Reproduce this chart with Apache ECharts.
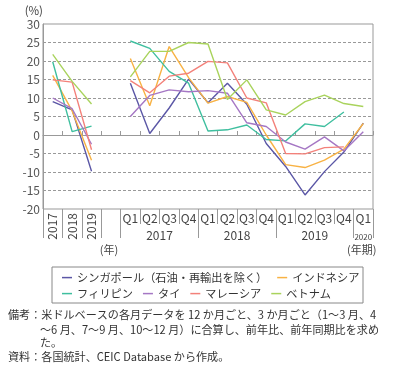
<!DOCTYPE html>
<html><head><meta charset="utf-8">
<script src="https://cdn.jsdelivr.net/npm/echarts@6/dist/echarts.min.js"></script>
<style>html,body{margin:0;padding:0;background:#fff}#c{width:400px;height:368px}</style>
</head><body><div id="c"></div>
<script>
var annualLabels = ['2017', '2018', '2019'];
var quarterLabels = ['Q1','Q2','Q3','Q4','Q1','Q2','Q3','Q4','Q1','Q2','Q3','Q4','Q1'];
var yearGroups = ['2017', '2018', '2019', '2020'];
var seriesNames = ['シンガポール（石油・再輸出を除く）', 'インドネシア', 'フィリピン', 'タイ', 'マレーシア', 'ベトナム'];
var colors = ['#5b57a6', '#f8b244', '#3fbf9f', '#a577c4', '#f3817a', '#a9d35c'];

var singaporeAnnual = [9.0, 6.8, -9.8];
var singaporeQ = [14.0, 0.4, 7.3, 15.1, 8.7, 14.0, 8.3, -2.3, -8.5, -16.2, -9.9, -4.6, 3.2];
var indonesiaAnnual = [16.1, 6.5, -6.8];
var indonesiaQ = [20.7, 7.9, 23.9, 15.5, 8.6, 10.4, 8.8, 0.0, -8.0, -8.8, -6.8, -3.8, 3.1];
var philippinesAnnual = [19.8, 0.9, 2.4];
var philippinesQ = [25.4, 23.4, 17.2, 14.0, 1.1, 1.4, 2.7, -1.2, -1.6, 3.0, 2.3, 6.2, null];
var thailandAnnual = [10.0, 7.1, -2.5];
var thailandQ = [5.0, 10.7, 12.2, 11.7, 12.0, 11.3, 3.3, 2.3, -1.9, -3.8, -0.5, -4.3, 0.9];
var malaysiaAnnual = [14.9, 14.3, -4.0];
var malaysiaQ = [14.7, 11.4, 15.9, 16.7, 19.9, 19.5, 10.0, 8.7, -5.0, -5.1, -3.4, -3.2, null];
var vietnamAnnual = [21.8, 14.5, 8.4];
var vietnamQ = [15.7, 22.6, 22.6, 25.0, 24.6, 9.6, 14.9, 6.8, 5.4, 9.0, 10.8, 8.5, 7.7];

var nA = annualLabels.length, nQ = quarterLabels.length;
var nCat = nA + 1 + nQ;
var categories = [];
for (var i = 0; i < nA; i++) categories.push(annualLabels[i]);
categories.push('');
for (var j = 0; j < nQ; j++) categories.push(yearGroups[Math.floor(j / 4)] + quarterLabels[j]);

function join(a, q) { return a.concat([null]).concat(q); }
var allData = [
  join(singaporeAnnual, singaporeQ), join(indonesiaAnnual, indonesiaQ),
  join(philippinesAnnual, philippinesQ), join(thailandAnnual, thailandQ),
  join(malaysiaAnnual, malaysiaQ), join(vietnamAnnual, vietnamQ)
];

var qStart = nA + 1;
var shortTicks = [], longTicks = [0, 1, 2, 3, qStart];
for (var k = 1; k < nQ; k++) {
  if (k % 4 === 0) longTicks.push(qStart + k); else shortTicks.push(qStart + k);
}
longTicks.push(nCat);
var annualPos = annualLabels.map(function (_, i) { return i + 0.5; });
var quarterPos = quarterLabels.map(function (_, i) { return qStart + i + 0.5; });
var groupPos = yearGroups.map(function (_, g) {
  var s = qStart + g * 4, e = Math.min(s + 4, nCat);
  return (s + e) / 2;
});

var FONT = 'Noto Sans CJK JP';
var gray = '#999';

var chart = echarts.init(document.getElementById('c'), null, {renderer: 'canvas'});
var series = seriesNames.map(function (n, i) {
  return {
    name: n, type: 'line', data: allData[i], xAxisIndex: 0, yAxisIndex: 0,
    symbol: 'none', showSymbol: false, connectNulls: false,
    lineStyle: {width: 1.4, color: colors[i]}, itemStyle: {color: colors[i]}
  };
});

function valueAxis(extra) {
  var ax = {
    type: 'value', min: 0, max: nCat, position: 'bottom',
    axisLine: {show: false, onZero: false},
    splitLine: {show: false},
    axisTick: {show: false},
    axisLabel: {show: false}
  };
  for (var key in extra) ax[key] = extra[key];
  return ax;
}

chart.setOption({
  animation: false,
  textStyle: {fontFamily: FONT},
  grid: {left: 43, right: 27, top: 24, bottom: 159, show: true, borderColor: gray, borderWidth: 1},
  xAxis: [
    {
      type: 'category', data: categories, boundaryGap: true,
      axisLine: {show: true, onZero: true, lineStyle: {color: gray}},
      axisTick: {show: true, inside: true, length: 4, interval: 0, lineStyle: {color: gray}},
      axisLabel: {show: false}, splitLine: {show: false}
    },
    valueAxis({
      axisTick: {show: true, customValues: shortTicks, length: 15, lineStyle: {color: gray}},
      axisLabel: {show: true, customValues: annualPos, rotate: 90, margin: 4, fontSize: 12, color: '#444', fontFamily: FONT,
        formatter: function (v) { return annualLabels[Math.round(v - 0.5)]; }}
    }),
    valueAxis({
      axisLabel: {show: true, customValues: quarterPos, margin: 3, fontSize: 12, color: '#444', fontFamily: FONT,
        formatter: function (v) { return quarterLabels[Math.round(v - 0.5 - qStart)]; }}
    }),
    valueAxis({
      axisTick: {show: true, customValues: longTicks, length: 29, lineStyle: {color: gray}},
      axisLabel: {show: true, customValues: groupPos, margin: 20, fontSize: 12, color: '#444', fontFamily: FONT,
        formatter: function (v) {
          var g = groupPos.indexOf(v);
          return g === yearGroups.length - 1 ? '{s|' + yearGroups[g] + '}' : yearGroups[g];
        },
        rich: {s: {fontSize: 8, color: '#444', fontFamily: FONT, padding: [4, 0, 0, 0]}}}
    })
  ],
  yAxis: {
    type: 'value', min: -20, max: 30, interval: 5,
    name: '(%)', nameLocation: 'end', nameGap: 8,
    nameTextStyle: {align: 'right', fontSize: 11.5, color: '#444', fontFamily: FONT},
    axisLine: {show: true, onZero: false, lineStyle: {color: gray}},
    axisTick: {show: false},
    axisLabel: {fontSize: 12, color: '#555', margin: 3, fontFamily: FONT},
    splitLine: {show: true, showMinLine: false, showMaxLine: false, lineStyle: {color: gray, type: [3, 2]}}
  },
  legend: [
    {data: seriesNames.slice(0, 2), left: 62, top: 272, padding: 0, itemGap: 10, icon: 'rect', itemWidth: 10, itemHeight: 1.5,
      textStyle: {fontSize: 11.2, color: '#333', fontFamily: FONT}},
    {data: seriesNames.slice(2), left: 62, top: 288, padding: 0, itemGap: 10, icon: 'rect', itemWidth: 10, itemHeight: 1.5,
      textStyle: {fontSize: 11.2, color: '#333', fontFamily: FONT}}
  ],
  graphic: [
    {type: 'rect', shape: {x: 52, y: 267, width: 311, height: 36}, style: {fill: 'none', stroke: '#888', lineWidth: 1}},
    {type: 'text', x: 109, y: 250, style: {text: '(年)', fontSize: 11, fill: '#444', fontFamily: FONT, align: 'center', verticalAlign: 'middle'}},
    {type: 'text', x: 347, y: 250, style: {text: '(年期)', fontSize: 11, fill: '#444', fontFamily: FONT, align: 'left', verticalAlign: 'middle'}},
    {type: 'text', x: 8, y: 315, style: {text: '備考：米ドルベースの各月データを 12 か月ごと、3 か月ごと（1～3 月、4', fontSize: 11.1, fill: '#333', fontFamily: FONT, verticalAlign: 'middle'}},
    {type: 'text', x: 40, y: 330, style: {text: '～6 月、7～9 月、10～12 月）に合算し、前年比、前年同期比を求め', fontSize: 11.1, fill: '#333', fontFamily: FONT, verticalAlign: 'middle'}},
    {type: 'text', x: 40, y: 343, style: {text: 'た。', fontSize: 11.1, fill: '#333', fontFamily: FONT, verticalAlign: 'middle'}},
    {type: 'text', x: 8, y: 357, style: {text: '資料：各国統計、CEIC Database から作成。', fontSize: 11.1, fill: '#333', fontFamily: FONT, verticalAlign: 'middle'}}
  ],
  series: series
});
</script></body></html>
